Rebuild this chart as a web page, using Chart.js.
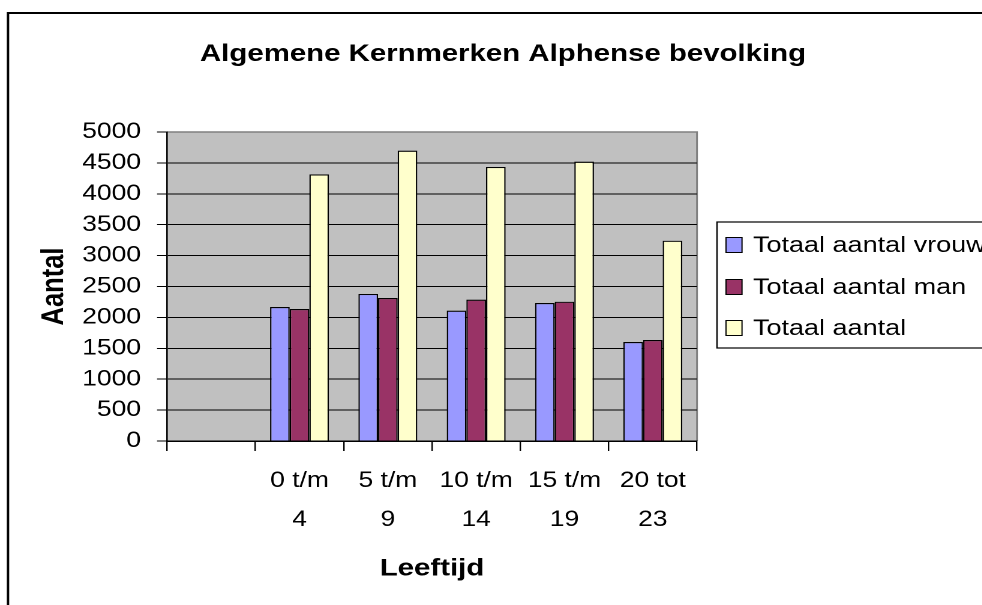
<!DOCTYPE html>
<html><head><meta charset="utf-8">
<script src="https://cdn.jsdelivr.net/npm/chart.js@4"></script>
<style>
html,body{margin:0;padding:0;background:#fff;overflow:hidden;width:982px;height:605px}
#wrap{position:absolute;left:0;top:0;width:819px;height:605px;transform:scaleX(1.2);transform-origin:0 0}
canvas{display:block}
</style></head><body>
<div id="wrap"><canvas id="c" width="819" height="605"></canvas></div>
<script>
const chartTitle = 'Algemene Kernmerken Alphense bevolking';
const xTitle = 'Leeftijd';
const yTitle = 'Aantal';
const categories = ['', ['0 t/m', '4'], ['5 t/m', '9'], ['10 t/m', '14'], ['15 t/m', '19'], ['20 tot', '23']];
const seriesNames = ['Totaal aantal vrouw', 'Totaal aantal man', 'Totaal aantal'];
const vrouw  = [null, 2168, 2379, 2109, 2233, 1602];
const man    = [null, 2136, 2314, 2287, 2254, 1634];
const totaal = [null, 4315, 4698, 4434, 4520, 3241];
const yTickLabels = ['0','500','1000','1500','2000','2500','3000','3500','4000','4500','5000'];
const yMin = 0, yMax = 5000, yStep = 500;
const seriesColors = ['#9999FF', '#993366', '#FFFFCC'];

const SX = 1.2;
const A = v => v / SX;
const FAM = '"Liberation Sans", Arial, Helvetica, sans-serif';

const framePlugin = {
  id: 'frame',
  beforeDraw(chart) {
    const {ctx, chartArea: a} = chart;
    ctx.save();
    ctx.fillStyle = '#fff';
    ctx.fillRect(0, 0, chart.width, chart.height);
    ctx.fillStyle = '#C0C0C0';
    ctx.fillRect(a.left, a.top, a.right - a.left, a.bottom - a.top);
    ctx.strokeStyle = '#808080';
    ctx.lineWidth = 1.5;
    ctx.beginPath();
    ctx.moveTo(a.left, a.top); ctx.lineTo(a.right, a.top); ctx.lineTo(a.right, a.bottom);
    ctx.stroke();
    ctx.strokeStyle = '#000';
    ctx.lineWidth = 2;
    ctx.beginPath();
    ctx.moveTo(A(8), chart.height + 10); ctx.lineTo(A(8), 13); ctx.lineTo(chart.width + 10, 13);
    ctx.stroke();
    ctx.fillStyle = '#000';
    ctx.font = 'bold 24.5px ' + FAM;
    ctx.textAlign = 'center';
    ctx.textBaseline = 'middle';
    ctx.fillText(chartTitle, A(503), 54);
    ctx.restore();
  },
  afterDraw(chart) {
    const {ctx} = chart;
    ctx.save();
    const x0 = A(717), y0 = 222, y1 = 348;
    ctx.fillStyle = '#fff';
    ctx.fillRect(x0, y0, chart.width - x0 + 20, y1 - y0);
    ctx.strokeStyle = '#000';
    ctx.lineWidth = 1.2;
    ctx.strokeRect(x0, y0, chart.width - x0 + 20, y1 - y0);
    const rows = [245, 287, 328];
    chart.data.datasets.forEach((ds, i) => {
      const cy = rows[i];
      ctx.fillStyle = ds.backgroundColor;
      ctx.fillRect(A(726), cy - 7.5, A(742) - A(726), 15);
      ctx.strokeStyle = '#000';
      ctx.lineWidth = 1;
      ctx.strokeRect(A(726), cy - 7.5, A(742) - A(726), 15);
      ctx.fillStyle = '#000';
      ctx.font = '22.5px ' + FAM;
      ctx.textAlign = 'left';
      ctx.textBaseline = 'middle';
      ctx.fillText(ds.label, A(753), cy + 1);
    });
    ctx.restore();
  }
};

new Chart(document.getElementById('c'), {
  type: 'bar',
  data: {
    labels: categories,
    datasets: [vrouw, man, totaal].map((d, i) => ({
      label: seriesNames[i],
      data: d,
      backgroundColor: seriesColors[i],
      borderColor: '#000',
      borderWidth: 1.2,
      categoryPercentage: 0.6667,
      barPercentage: 1.0
    }))
  },
  options: {
    responsive: false,
    animation: false,
    devicePixelRatio: 2,
    layout: { padding: { top: 132, left: 0, right: 819 - A(697), bottom: 0 } },
    plugins: { legend: { display: false }, tooltip: { enabled: false }, title: { display: false } },
    scales: {
      x: {
        grid: { display: true, drawOnChartArea: false, drawTicks: true, tickLength: 10, color: '#000', lineWidth: 1.2, offset: true },
        border: { display: true, color: '#000', width: 1.5 },
        ticks: { color: '#000', font: { family: FAM, size: 22, lineHeight: '39px' }, padding: 10.5, maxRotation: 0, minRotation: 0, autoSkip: false },
        title: { display: true, text: xTitle, color: '#000', font: { family: FAM, size: 24.5, weight: 'bold', lineHeight: 1.2 }, padding: { top: 0, bottom: 21.6 } },
        afterFit(s) { s.height = 164; }
      },
      y: {
        min: yMin, max: yMax,
        ticks: { stepSize: yStep, color: '#000', font: { family: FAM, size: 22 }, padding: 13.4,
                 callback: (v, i) => yTickLabels[i] },
        grid: { color: c => (c.tick && c.tick.value === yMax) ? 'rgba(0,0,0,0)' : '#000', tickColor: '#000', lineWidth: 1, tickLength: 8.3, drawTicks: true },
        border: { display: true, color: '#000', width: 1.3 },
        title: { display: true, text: yTitle, color: '#000', font: { family: FAM, size: 25.5, weight: 'bold', lineHeight: 1.2 }, padding: { top: 30, bottom: 0 } },
        afterFit(s) { s.width = A(167); }
      }
    }
  },
  plugins: [framePlugin]
});
</script>
</body></html>
